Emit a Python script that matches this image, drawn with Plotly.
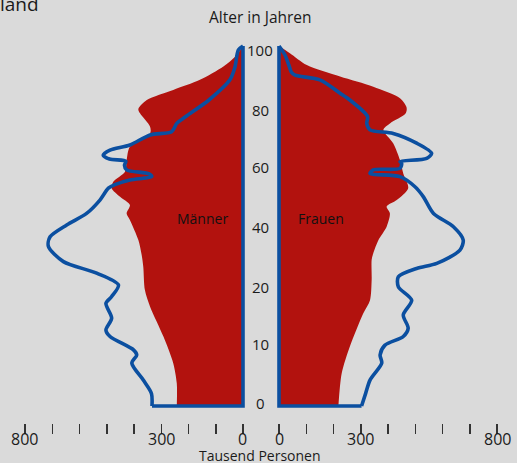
import plotly.graph_objects as go

# ---------------- data (Tausend Personen by age) ----------------
men_now_age = [0, 3.5, 7.2, 11.9, 14.2, 15.6, 19.3, 21.1, 24.4, 28.5, 30.4, 33.6, 36.9, 40.1, 44.3, 47,
               50.3, 53.5, 57.2, 60.5, 61.5, 62.8, 63.7, 64.5, 65.6, 66.9, 68, 68.6, 69.7, 71.1, 72.5,
               75.3, 76.2, 78.5, 80.4, 85, 90.6, 94, 98.9, 100]
men_now = [334, 336, 366, 408, 390, 402, 488, 503, 482, 503, 482, 457, 537, 659, 714, 708,
           647, 574, 525, 494, 470, 415, 335, 345, 427, 435, 430, 490, 513, 488, 415,
           341, 262, 243, 210, 125, 48, 30, 17, 0]

men_future_age = [0, 6.3, 11.9, 19.3, 27.6, 32.2, 38.7, 42, 46.1, 51.7, 53.5, 55.8, 58.1, 60.5, 62.3,
                  65.1, 68.3, 72, 75.7, 77.6, 81.3, 82.5, 85, 87.8, 90.6, 94.3, 97, 100]
men_future = [243, 243, 256, 292, 341, 360, 366, 372, 384, 415, 427, 415, 451, 482, 476,
              433, 427, 415, 341, 341, 378, 384, 353, 256, 158, 72, 29, 0]

women_now_age = [0, 3.5, 7.2, 11.9, 14.2, 16.9, 19.3, 21.6, 25.3, 29.4, 33.1, 35.9, 38.2, 39.6, 43.3,
                 46.1, 49.8, 53.5, 58.1, 60.9, 63.7, 64.6, 65.6, 66, 67.4, 67.9, 68.8, 70.2, 73,
                 75.7, 76.7, 78.5, 80.4, 85, 86.9, 90.6, 91.9, 92.8, 94.3, 97.5, 100]
women_now = [303, 318, 334, 377, 371, 389, 456, 474, 456, 487, 438, 438, 505, 579, 664,
             676, 640, 567, 530, 499, 444, 334, 346, 444, 450, 444, 542, 560, 505,
             419, 334, 322, 325, 260, 224, 150, 59, 45, 38, 22, 0]

women_future_age = [0, 9, 16.5, 25.7, 29.4, 35, 40.6, 42.4, 46.1, 49.8, 53.5, 55.4, 57.2, 60.5, 64.6,
                    68.3, 73, 76.7, 78.5, 81.3, 83, 85.5, 88.7, 91.5, 94.7, 98, 100]
women_future = [218, 230, 260, 309, 334, 340, 340, 346, 365, 395, 407, 395, 432, 474, 456,
                444, 419, 383, 407, 465, 468, 444, 346, 224, 102, 40, 0]

x_tick_vals = [0, 100, 200, 300, 400, 500, 600, 700, 800]
x_tick_text = ["0", "", "", "300", "", "", "", "", "800"]

age_label_pos = [0.83, 17.2, 33.1, 49.7, 66.4, 82.2, 98.9]
age_label_text = ["0", "10", "20", "40", "60", "80", "100"]

# ---------------- styling ----------------
BG = "#dadada"
RED = "#b2120e"
BLUE = "#0b4fa0"
TXT = "#1a1a1a"
FONT = "Open Sans"

W, H = 517, 463

fig = go.Figure()

panels = [("x", "y", men_future_age, men_future, men_now_age, men_now),
          ("x2", "y2", women_future_age, women_future, women_now_age, women_now)]

for xa, ya, fa, fv, na, nv in panels:
    fig.add_trace(go.Scatter(x=fv, y=fa, xaxis=xa, yaxis=ya, mode="lines",
                             line=dict(width=0, shape="spline", smoothing=0.8, color=RED),
                             fill="tozerox", fillcolor=RED, hoverinfo="skip", showlegend=False))
    fig.add_trace(go.Scatter(x=nv, y=na, xaxis=xa, yaxis=ya, mode="lines",
                             line=dict(width=3.6, shape="spline", smoothing=0.8, color=BLUE),
                             hoverinfo="skip", showlegend=False))
    fig.add_trace(go.Scatter(x=[nv[0], 0, 0], y=[na[0], na[0], na[-1]], xaxis=xa, yaxis=ya,
                             mode="lines", line=dict(width=3.6, color=BLUE),
                             hoverinfo="skip", showlegend=False))

# pixel geometry helpers
px_per_unit = 218 / 800.0
px_per_year = 3.6
left_zero_px, right_zero_px = 243, 279
age0_px = 406
y_lo, y_hi = -4.722, 102

def xdom(zero_px, lo, hi):
    a = zero_px + lo * px_per_unit
    b = zero_px + hi * px_per_unit
    return [a / W, b / W]

ydom = [(H - (age0_px - y_lo * px_per_year)) / H, (H - (age0_px - y_hi * px_per_year)) / H]

xaxis_common = dict(showgrid=False, zeroline=False, showline=False, automargin=False,
                    tickmode="array", tickvals=x_tick_vals, showticklabels=False,
                    ticks="outside", ticklen=10, tickwidth=1.5, tickcolor="#333333",
                    fixedrange=True)
yaxis_common = dict(showgrid=False, zeroline=False, showline=False, showticklabels=False,
                    automargin=False, ticks="", range=[y_lo, y_hi], domain=ydom, fixedrange=True)

fig.update_layout(
    width=W, height=H, autosize=False,
    margin=dict(l=0, r=0, t=0, b=0, pad=0, autoexpand=False),
    paper_bgcolor=BG, plot_bgcolor=BG,
    font=dict(family=FONT, color=TXT),
    xaxis=dict(**xaxis_common, range=[820, -10], domain=xdom(left_zero_px, -820, 10), anchor="y"),
    xaxis2=dict(**xaxis_common, range=[-10, 820], domain=xdom(right_zero_px, -10, 820), anchor="y2"),
    yaxis=dict(**yaxis_common, anchor="x"),
    yaxis2=dict(**yaxis_common, anchor="x2"),
    showlegend=False,
)

ann = []
# x tick labels (both panels), placed just under the tick marks
for xref in ("x", "x2"):
    for v, t in zip(x_tick_vals, x_tick_text):
        if t:
            ann.append(dict(x=v, xref=xref, y=1 - 438.5 / H, yref="paper", text=t, showarrow=False,
                            xanchor="center", yanchor="middle",
                            font=dict(family=FONT, size=16, color=TXT)))
# age labels in the centre column
for pos, txt in zip(age_label_pos, age_label_text):
    ann.append(dict(x=260 / W, xref="paper", y=pos, yref="y", text=txt, showarrow=False,
                    xanchor="center", yanchor="middle", font=dict(family=FONT, size=15, color=TXT)))

ann += [
    dict(x=260 / W, y=1 - 17 / H, xref="paper", yref="paper", text="Alter in Jahren",
         showarrow=False, xanchor="center", yanchor="middle", font=dict(family=FONT, size=15.5, color=TXT)),
    dict(x=260 / W, y=1 - 455.5 / H, xref="paper", yref="paper", text="Tausend Personen",
         showarrow=False, xanchor="center", yanchor="middle", font=dict(family=FONT, size=14, color=TXT)),
    dict(x=202 / W, y=1 - 218 / H, xref="paper", yref="paper", text="Männer",
         showarrow=False, xanchor="center", yanchor="middle", font=dict(family=FONT, size=14, color="#111111")),
    dict(x=321 / W, y=1 - 218 / H, xref="paper", yref="paper", text="Frauen",
         showarrow=False, xanchor="center", yanchor="middle", font=dict(family=FONT, size=14, color="#111111")),
    dict(x=-2 / W, y=1 - 4 / H, xref="paper", yref="paper", text="land",
         showarrow=False, xanchor="left", yanchor="middle", font=dict(family=FONT, size=19, color=TXT)),
]
fig.update_layout(annotations=ann)

fig.write_html("out.html", config={"displayModeBar": False, "staticPlot": True},
               post_script="document.body.style.margin='0';document.body.style.padding='0';")
